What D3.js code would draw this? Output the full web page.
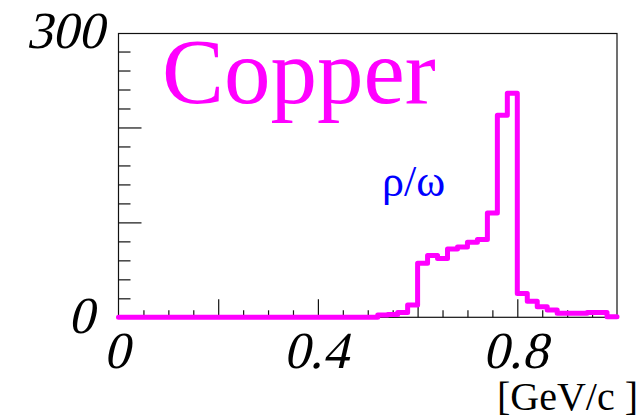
<!DOCTYPE html>
<html>
<head>
<meta charset="utf-8">
<script src="https://cdn.jsdelivr.net/npm/d3@7"></script>
<style>
  html, body { margin: 0; padding: 0; background: #fff; }
  svg { display: block; }
</style>
</head>
<body>
<svg id="chart" width="644" height="418"></svg>
<script>
// ---- data ----
const binEdges = [0.00,0.02,0.04,0.06,0.08,0.10,0.12,0.14,0.16,0.18,
                  0.20,0.22,0.24,0.26,0.28,0.30,0.32,0.34,0.36,0.38,
                  0.40,0.42,0.44,0.46,0.48,0.50,0.52,0.54,0.56,0.58,
                  0.60,0.62,0.64,0.66,0.68,0.70,0.72,0.74,0.76,0.78,
                  0.80,0.82,0.84,0.86,0.88,0.90,0.92,0.94,0.96,0.98,1.00];
const counts = [0,0,0,0,0,0,0,0,0,0,
                0,0,0,0,0,0,0,0,0,0,
                0,0,0,0,0,0,2.5,3,5,13,
                57,65,62,72,74,79,82,110,213,236,
                25,17,11,7.7,4.2,4.2,4.2,5,5,0.6];
const xMinorTicks = [0.05,0.1,0.15,0.25,0.3,0.35,0.45,0.5,0.55,0.65,0.7,0.75,0.85,0.9,0.95];
const xMajorTicks = [0.2,0.4,0.6,0.8];
const xLabels = [0, 0.4, 0.8];
const yMinorTicks = [20,40,60,80,120,140,160,180,220,240,260,280];
const yMajorTicks = [100,200];
const yLabels = [0, 300];
const xDomain = [0, 1];
const yDomain = [0, 299];
const title = "Copper";
const annotation = "ρ/ω";
const xUnit = "[GeV/c ]";

// ---- drawing ----
const FONT = '"Liberation Serif"';
const svg = d3.select("#chart");
const x = d3.scaleLinear().domain(xDomain).range([118.5, 617]);
const y = d3.scaleLinear().domain(yDomain).range([317.3, 33.5]);

svg.append("rect")
  .attr("x", x(xDomain[0])).attr("y", y(yDomain[1]))
  .attr("width", x(xDomain[1]) - x(xDomain[0]))
  .attr("height", y(yDomain[0]) - y(yDomain[1]))
  .attr("fill", "none").attr("stroke", "#111").attr("stroke-width", 1.2);

function styleAxis(g) {
  g.select(".domain").remove();
  g.selectAll(".tick line").attr("stroke", "#111").attr("stroke-width", 1.2);
  g.selectAll(".tick text").remove();
}
const y0 = y(0);
svg.append("g").attr("transform", `translate(${x(0)},0)`)
  .call(d3.axisLeft(y).tickValues(yMinorTicks).tickSize(-12).tickFormat(""))
  .call(styleAxis);
svg.append("g").attr("transform", `translate(${x(0)},0)`)
  .call(d3.axisLeft(y).tickValues(yMajorTicks).tickSize(-23).tickFormat(""))
  .call(styleAxis);
svg.append("g").attr("transform", `translate(0,${y0})`)
  .call(d3.axisBottom(x).tickValues(xMinorTicks).tickSize(-7).tickFormat(""))
  .call(styleAxis);
svg.append("g").attr("transform", `translate(0,${y0})`)
  .call(d3.axisBottom(x).tickValues(xMajorTicks).tickSize(-18).tickFormat(""))
  .call(styleAxis);

const pts = counts.map((c, i) => [binEdges[i], c]);
pts.push([binEdges[binEdges.length - 1], counts[counts.length - 1]]);
const line = d3.line().x(d => x(d[0])).y(d => y(d[1])).curve(d3.curveStepAfter);
svg.append("path")
  .attr("d", line(pts))
  .attr("fill", "none")
  .attr("stroke", "#ff00ff")
  .attr("stroke-width", 5)
  .attr("stroke-linejoin", "round")
  .attr("stroke-linecap", "round");

// tick labels (serif, slanted via skew)
svg.selectAll("text.ylab").data(yLabels).enter().append("text")
  .attr("class", "ylab")
  .attr("transform", d => `translate(${d === yLabels[yLabels.length - 1] ? 104 : 94},${y(d) + 15.5}) skewX(-13)`)
  .attr("text-anchor", "end")
  .style("font-family", FONT)
  .style("font-size", "52px").attr("fill", "#000")
  .text(d => String(d));
svg.selectAll("text.xlab").data(xLabels).enter().append("text")
  .attr("class", "xlab")
  .attr("transform", d => `translate(${x(d) - 2},368) skewX(-13)`)
  .attr("text-anchor", "middle")
  .style("font-family", FONT)
  .style("font-size", "52px").attr("fill", "#000")
  .text(d => String(d));

svg.append("text")
  .attr("transform", "translate(162,103) scale(1.1625)")
  .style("font-family", FONT)
  .style("font-size", "80px").attr("fill", "#ff00ff")
  .text(title);
svg.append("text").attr("x", 382).attr("y", 196)
  .style("font-family", FONT)
  .style("font-size", "44px").attr("fill", "#0000ff")
  .text(annotation);
svg.append("text").attr("x", 638).attr("y", 410).attr("text-anchor", "end")
  .style("font-family", FONT)
  .style("font-size", "40px").attr("fill", "#000")
  .text(xUnit);
</script>
</body>
</html>
